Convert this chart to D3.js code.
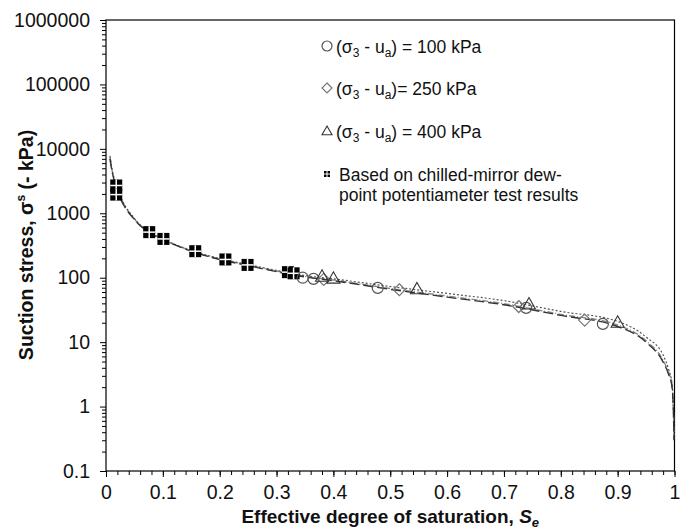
<!DOCTYPE html>
<html lang="en">
<head>
    <meta charset="UTF-8">
    <title>Suction stress vs effective degree of saturation</title>
    <script src="https://d3js.org/d3.v7.min.js"></script>
    <style>
        body { margin: 0; background: #fff; }
        svg { font-family: "Liberation Sans", Arial, sans-serif; }
        .axis text { font-size: 19.5px; fill: #111; font-family: "Liberation Sans", Arial, sans-serif; }
        .axis line { stroke: #000; }
        .axis path { display: none; }
    </style>
</head>
<body>
    <svg width="692" height="529"></svg>

    <script>
        // curves (fitted SSCC)
        const curveSe = [0.007, 0.01, 0.02, 0.05, 0.075, 0.1, 0.15, 0.2, 0.25, 0.3, 0.35, 0.4, 0.5, 0.6, 0.7, 0.8, 0.9, 0.95, 0.98, 0.99, 0.995, 0.998, 0.999];
        const curve100 = [7000, 4800, 2300, 800, 510, 390, 258, 192, 154, 124, 103, 90, 66, 50, 38, 26, 17.5, 10, 4.9, 3.1, 2.2, 0.9, 0.3];
        const curve250 = [7400, 5000, 2400, 815, 518, 395, 261, 195, 157, 127, 105, 92, 68, 52, 39.5, 27, 18.5, 10.5, 5.2, 3.3, 2.3, 0.95, 0.33];
        const curve400 = [7800, 5200, 2500, 830, 525, 400, 265, 198, 160, 130, 108, 96, 73, 57, 44, 30, 21, 12, 6.3, 3.7, 2.5, 1.0, 0.36];

        // measured points
        const circleSe = [0.346, 0.365, 0.478, 0.739, 0.874];
        const circleSs = [100, 96, 69.5, 34, 19.2];
        const diamondSe = [0.383, 0.516, 0.726, 0.842];
        const diamondSs = [94, 65, 35.7, 22];
        const triangleSe = [0.38, 0.40, 0.547, 0.744, 0.90];
        const triangleSs = [105, 98, 67, 39, 20.3];
        const squareSe = [0.018, 0.018, 0.076, 0.101, 0.157, 0.21, 0.249, 0.32, 0.33];
        const squareSs = [2700, 1950, 510, 400, 258, 192, 158, 122, 117];

        const xTicks = [0, 0.1, 0.2, 0.3, 0.4, 0.5, 0.6, 0.7, 0.8, 0.9, 1];
        const yTicks = [0.1, 1, 10, 100, 1000, 10000, 100000, 1000000];
        const yTickLabels = ["0.1", "1", "10", "100", "1000", "10000", "100000", "1000000"];

        const plot = { left: 106, right: 674.5, top: 20, bottom: 471 };

        const svg = d3.select("svg");

        const x = d3.scaleLinear().domain([0, 1]).range([plot.left, plot.right]);
        const y = d3.scaleLog().domain([0.1, 1000000]).range([plot.bottom, plot.top]);

        // minor ticks
        const xMinor = d3.range(0, 1.0001, 0.02);
        const yMinor = [];
        yTicks.slice(0, -1).forEach(d => { for (let k = 2; k < 10; k++) yMinor.push(d * k); });

        svg.append("g")
            .attr("class", "axis")
            .attr("transform", `translate(0, ${plot.bottom})`)
            .call(d3.axisBottom(x).tickValues(xMinor).tickSize(4).tickFormat(""));
        svg.append("g")
            .attr("class", "axis")
            .attr("transform", `translate(${plot.left}, 0)`)
            .call(d3.axisLeft(y).tickValues(yMinor).tickSize(4).tickFormat(""));

        svg.append("g")
            .attr("class", "axis")
            .attr("transform", `translate(0, ${plot.bottom})`)
            .call(d3.axisBottom(x).tickValues(xTicks).tickSize(6).tickPadding(8)
                .tickFormat(d => (d === 0 || d === 1) ? String(d) : d.toFixed(1)))
            .selectAll("text").attr("font-size", 19.5);

        svg.append("g")
            .attr("class", "axis")
            .attr("transform", `translate(${plot.left}, 0)`)
            .call(d3.axisLeft(y).tickValues(yTicks).tickSize(6).tickPadding(10)
                .tickFormat((d, i) => yTickLabels[i]))
            .selectAll("text").attr("font-size", 19.5);

        // frame
        svg.append("rect")
            .attr("x", plot.left).attr("y", plot.top)
            .attr("width", plot.right - plot.left).attr("height", plot.bottom - plot.top)
            .attr("fill", "none").attr("stroke", "#000").attr("stroke-width", 1.2);

        // curves
        const line = d3.line()
            .x(d => x(d[0]))
            .y(d => y(d[1]))
            .curve(d3.curveMonotoneX);

        const curves = [
            { vals: curve250, color: "#8a8a8a", dash: "6,2,1,2", w: 1.4 },
            { vals: curve400, color: "#555", dash: "2,2", w: 1.2 },
            { vals: curve100, color: "#333", dash: "10,4", w: 1.4 }
        ];
        curves.forEach(c => {
            svg.append("path")
                .datum(curveSe.map((s, i) => [s, c.vals[i]]))
                .attr("d", line)
                .attr("fill", "none")
                .attr("stroke", c.color)
                .attr("stroke-width", c.w)
                .attr("stroke-dasharray", c.dash);
        });

        // markers
        function squareMark(g, cx, cy, s) {
            g.append("rect").attr("x", cx - s / 2).attr("y", cy - s / 2)
                .attr("width", s).attr("height", s).attr("fill", "#000");
            g.append("line").attr("x1", cx).attr("x2", cx).attr("y1", cy - s / 2).attr("y2", cy + s / 2)
                .attr("stroke", "#fff").attr("stroke-width", s > 6 ? 1.5 : 1);
            g.append("line").attr("y1", cy).attr("y2", cy).attr("x1", cx - s / 2).attr("x2", cx + s / 2)
                .attr("stroke", "#fff").attr("stroke-width", s > 6 ? 1.5 : 1);
        }
        function circleMark(g, cx, cy, r) {
            g.append("circle").attr("cx", cx).attr("cy", cy).attr("r", r)
                .attr("fill", "none").attr("stroke", "#555").attr("stroke-width", 1.2);
        }
        function diamondMark(g, cx, cy, r) {
            g.append("path")
                .attr("d", `M${cx},${cy - r}L${cx + r},${cy}L${cx},${cy + r}L${cx - r},${cy}Z`)
                .attr("fill", "none").attr("stroke", "#777").attr("stroke-width", 1.2);
        }
        function triangleMark(g, cx, cy, r) {
            g.append("path")
                .attr("d", `M${cx},${cy - r}L${cx + r},${cy + r * 0.75}L${cx - r},${cy + r * 0.75}Z`)
                .attr("fill", "none").attr("stroke", "#333").attr("stroke-width", 1.1);
        }

        const marks = svg.append("g");
        squareSe.forEach((s, i) => squareMark(marks, x(s), y(squareSs[i]), 12));
        circleSe.forEach((s, i) => circleMark(marks, x(s), y(circleSs[i]), 5.5));
        diamondSe.forEach((s, i) => diamondMark(marks, x(s), y(diamondSs[i]), 6));
        triangleSe.forEach((s, i) => triangleMark(marks, x(s), y(triangleSs[i]), 6.5));

        // legend
        const lg = svg.append("g");
        const legendRows = [
            { y: 46, mark: circleMark, val: ") = 100 kPa" },
            { y: 88, mark: diamondMark, val: ")= 250 kPa" },
            { y: 131, mark: triangleMark, val: ") = 400 kPa" }
        ];
        legendRows.forEach(r => {
            r.mark(lg, 327, r.y, 5);
            const t = lg.append("text").attr("x", 336).attr("y", r.y + 6.5)
                .attr("font-size", 17.5).attr("fill", "#111");
            t.append("tspan").text("(σ");
            t.append("tspan").attr("dy", 4).attr("font-size", 12).text("3");
            t.append("tspan").attr("dy", -4).text(" - u");
            t.append("tspan").attr("dy", 4).attr("font-size", 12).text("a");
            t.append("tspan").attr("dy", -4).text(r.val);
        });
        squareMark(lg, 327, 174, 6);
        lg.append("text").attr("x", 339).attr("y", 180.5).attr("font-size", 17.5).attr("fill", "#111")
            .text("Based on chilled-mirror dew-");
        lg.append("text").attr("x", 339).attr("y", 201).attr("font-size", 17.5).attr("fill", "#111")
            .text("point potentiameter test results");

        // axis titles
        const xt = svg.append("text")
            .attr("x", (plot.left + plot.right) / 2).attr("y", 523)
            .attr("text-anchor", "middle")
            .attr("font-size", 19).attr("font-weight", "bold").attr("fill", "#111");
        xt.append("tspan").text("Effective degree of saturation, ");
        xt.append("tspan").attr("font-style", "italic").text("S");
        xt.append("tspan").attr("dy", 4).attr("font-size", 13).attr("font-style", "italic").text("e");

        const yt = svg.append("text")
            .attr("transform", "translate(33, 245) rotate(-90)")
            .attr("text-anchor", "middle")
            .attr("font-size", 19.5).attr("font-weight", "bold").attr("fill", "#111");
        yt.append("tspan").text("Suction stress, σ");
        yt.append("tspan").attr("dy", -8).attr("font-size", 12).text("s");
        yt.append("tspan").attr("dy", 8).text("  (- kPa)");
    </script>
</body>
</html>
